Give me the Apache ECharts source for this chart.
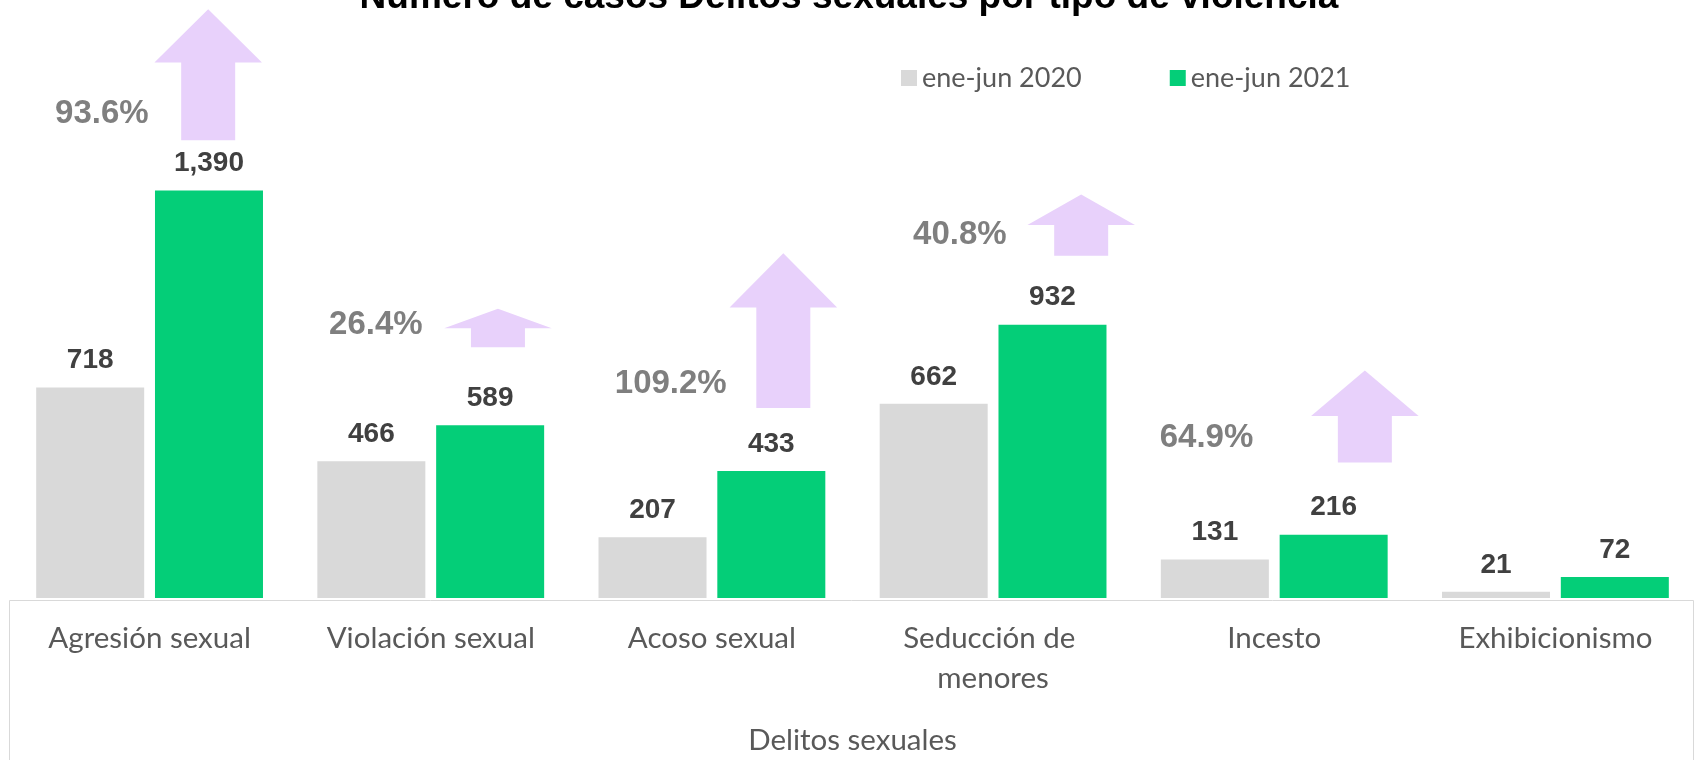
<!DOCTYPE html>
<html>
<head>
<meta charset="utf-8">
<script src="https://cdn.jsdelivr.net/npm/echarts@6/dist/echarts.min.js"></script>
<style>
  html, body { margin: 0; padding: 0; background: #fff; }
  #chart { width: 1696px; height: 760px; }
</style>
</head>
<body>
<div id="chart"></div>
<script>
// ---- data ----
const categories = ['Agresión sexual', 'Violación sexual', 'Acoso sexual', 'Seducción de menores', 'Incesto', 'Exhibicionismo'];
const seriesNames = ['ene-jun 2020', 'ene-jun 2021'];
const values2020 = [718, 466, 207, 662, 131, 21];
const values2021 = [1390, 589, 433, 932, 216, 72];
const changeLabels = ['93.6%', '26.4%', '109.2%', '40.8%', '64.9%'];

// ---- annotation layout (arrow placement: x offset in px from category centre, heights in axis units) ----
const arrowLayout = [
  { dx: 58.6, tip: 2008, head: 1826, base: 1561, labelDx: -0.9, labelY: 1650 },
  { dx: 67.2, tip: 986,  head: 920,  base: 855,  labelDx: -8.1, labelY: 932 },
  { dx: 71.4, tip: 1176, head: 991,  base: 648,  labelDx: 14.8, labelY: 731 },
  { dx: 88.1, tip: 1376, head: 1272, base: 1167, labelDx: 13.6, labelY: 1239 },
  { dx: 90.6, tip: 776,  head: 621,  base: 462,  labelDx: -21,  labelY: 546 }
];
const HEAD_HALF = 53.75, SHAFT_HALF = 27;

const chart = echarts.init(document.getElementById('chart'), null, { renderer: 'canvas' });

const labelFont = 'Lato';
const barLabel = {
  show: true,
  position: 'top',
  distance: 13,
  fontFamily: 'Liberation Sans',
  fontWeight: 'bold',
  fontSize: 28,
  color: '#404040',
  formatter: p => Number(p.value).toLocaleString('en-US')
};

const option = {
  animation: false,
  backgroundColor: '#ffffff',
  grid: { left: 9, right: 0, top: 11.5, bottom: 160, containLabel: false },
  legend: {
    data: seriesNames,
    left: 896,
    top: 58,
    icon: 'rect',
    itemWidth: 16,
    itemHeight: 16,
    itemGap: 88,
    textStyle: { fontFamily: labelFont, fontSize: 27, color: '#595959', lineHeight: 30 }
  },
  xAxis: {
    type: 'category',
    data: categories,
    axisLine: { show: false },
    axisTick: { show: false },
    axisLabel: {
      interval: 0,
      margin: 20,
      fontFamily: labelFont,
      fontSize: 29.5,
      lineHeight: 40,
      color: '#595959',
      width: 240,
      overflow: 'break'
    },
    name: 'Delitos sexuales',
    nameLocation: 'middle',
    nameGap: 127,
    nameTextStyle: { fontFamily: labelFont, fontSize: 29.5, color: '#595959' }
  },
  yAxis: { type: 'value', min: 0, max: 2000, show: false },
  graphic: [
    {
      type: 'text',
      z: 10,
      style: {
        text: 'Número de casos Delitos sexuales por tipo de violencia',
        x: 849, y: -2,
        textAlign: 'center', textVerticalAlign: 'middle',
        align: 'center', verticalAlign: 'middle',
        font: 'bold 37px "Liberation Sans"',
        fill: '#000000'
      }
    },
    {
      type: 'rect',
      z: 0,
      shape: { x: 9.5, y: 600.5, width: 1684, height: 200 },
      style: { fill: 'none', stroke: '#d9d9d9', lineWidth: 1 }
    }
  ],
  series: [
    {
      name: seriesNames[0],
      type: 'bar',
      data: values2020,
      barWidth: 108,
      barGap: '10%',
      itemStyle: { color: '#d9d9d9' },
      label: barLabel,
      z: 2
    },
    {
      name: seriesNames[1],
      type: 'bar',
      data: values2021,
      barWidth: 108,
      barGap: '10%',
      itemStyle: { color: '#04ce78' },
      label: barLabel,
      z: 2
    },
    {
      type: 'custom',
      silent: true,
      clip: false,
      z: 3,
      data: changeLabels.map((t, i) => [i, values2021[i]]),
      renderItem: function (params, api) {
        const i = api.value(0);
        const L = arrowLayout[i];
        const cx0 = api.coord([i, 0])[0];
        const cx = cx0 + L.dx;
        const yTip = api.coord([i, L.tip])[1];
        const yHead = api.coord([i, L.head])[1];
        const yBase = api.coord([i, L.base])[1];
        const yLabel = api.coord([i, L.labelY])[1];
        return {
          type: 'group',
          children: [
            {
              type: 'polygon',
              shape: {
                points: [
                  [cx, yTip], [cx + HEAD_HALF, yHead], [cx + SHAFT_HALF, yHead],
                  [cx + SHAFT_HALF, yBase], [cx - SHAFT_HALF, yBase],
                  [cx - SHAFT_HALF, yHead], [cx - HEAD_HALF, yHead]
                ]
              },
              style: { fill: '#e8d1fb' }
            },
            {
              type: 'text',
              style: {
                text: changeLabels[i],
                x: cx0 + L.labelDx,
                y: yLabel,
                align: 'right', verticalAlign: 'middle',
                textAlign: 'right', textVerticalAlign: 'middle',
                font: 'bold 33px "Liberation Sans"',
                fill: '#7f7f7f'
              }
            }
          ]
        };
      }
    }
  ]
};

chart.setOption(option);
</script>
</body>
</html>
